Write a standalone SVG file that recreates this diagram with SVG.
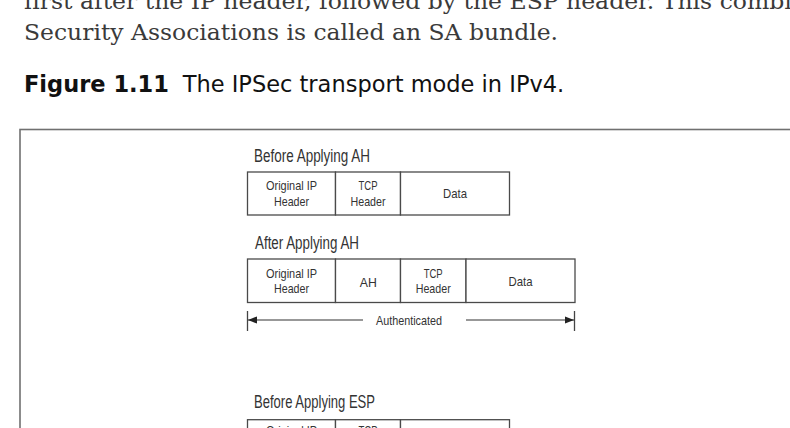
<svg xmlns="http://www.w3.org/2000/svg" width="790" height="428" viewBox="0 0 790 428">
  <defs>
    <style>
      .body { font-family: "DejaVu Serif", "Liberation Serif", serif; font-size: 22px; fill: #3a3a3a; }
      .capb { font-family: "DejaVu Sans", "Liberation Sans", sans-serif; font-size: 22.5px; font-weight: bold; fill: #111; }
      .cap { font-family: "DejaVu Sans", "Liberation Sans", sans-serif; font-size: 22.5px; fill: #111; }
      .frame { fill: none; stroke: #707070; stroke-width: 1.6; }
      .cell { fill: #fff; stroke: #4a4a4a; stroke-width: 1.3; }
      .title { font-family: "Liberation Sans", "DejaVu Sans", sans-serif; font-size: 17.5px; fill: #333; }
      .lbl { font-family: "Liberation Sans", "DejaVu Sans", sans-serif; font-size: 13.5px; fill: #333; text-anchor: middle; }
      .conn { stroke: #333; stroke-width: 1.2; fill: none; }
      .tick { stroke: #444; stroke-width: 1.3; }
    </style>
    <marker id="ah" viewBox="0 0 10 10" refX="10" refY="5" markerWidth="9" markerHeight="9" markerUnits="userSpaceOnUse" orient="auto">
      <path d="M0,1 L10,5 L0,9 Z" fill="#222"/>
    </marker>
  </defs>

  <rect width="790" height="428" fill="#fff"/>

  <text class="body" x="24" y="8.5" textLength="783" lengthAdjust="spacingAndGlyphs">first after the IP header, followed by the ESP header. This combin</text>
  <text class="body" x="24" y="39.5" textLength="534" lengthAdjust="spacingAndGlyphs">Security Associations is called an SA bundle.</text>

  <text class="capb" x="24" y="91.7">Figure 1.11</text>
  <text class="cap" x="182.7" y="91.7">The IPSec transport mode in IPv4.</text>

  <rect class="frame" x="20" y="129.5" width="800" height="320"/>

  <g id="before-ah">
    <text class="title" x="254" y="161.5" textLength="116" lengthAdjust="spacingAndGlyphs">Before Applying AH</text>
    <rect class="cell" x="247.5" y="172" width="88" height="43"/>
    <rect class="cell" x="335.5" y="172" width="65" height="43"/>
    <rect class="cell" x="400.5" y="172" width="109" height="43"/>
    <text class="lbl" x="291.5" y="190" textLength="51" lengthAdjust="spacingAndGlyphs">Original IP</text>
    <text class="lbl" x="291.5" y="205.5" textLength="35" lengthAdjust="spacingAndGlyphs">Header</text>
    <text class="lbl" x="368" y="190" textLength="19" lengthAdjust="spacingAndGlyphs">TCP</text>
    <text class="lbl" x="368" y="205.5" textLength="35" lengthAdjust="spacingAndGlyphs">Header</text>
    <text class="lbl" x="455" y="198" textLength="24" lengthAdjust="spacingAndGlyphs">Data</text>
  </g>

  <g id="after-ah">
    <text class="title" x="255" y="248.5" textLength="104" lengthAdjust="spacingAndGlyphs">After Applying AH</text>
    <rect class="cell" x="247.5" y="259" width="88" height="43.5"/>
    <rect class="cell" x="335.5" y="259" width="65" height="43.5"/>
    <rect class="cell" x="400.5" y="259" width="65.5" height="43.5"/>
    <rect class="cell" x="466" y="259" width="109" height="43.5"/>
    <text class="lbl" x="291.5" y="277.5" textLength="51" lengthAdjust="spacingAndGlyphs">Original IP</text>
    <text class="lbl" x="291.5" y="293" textLength="35" lengthAdjust="spacingAndGlyphs">Header</text>
    <text class="lbl" x="368.3" y="286.5" textLength="17" lengthAdjust="spacingAndGlyphs">AH</text>
    <text class="lbl" x="433.2" y="277.5" textLength="19" lengthAdjust="spacingAndGlyphs">TCP</text>
    <text class="lbl" x="433.2" y="293" textLength="35" lengthAdjust="spacingAndGlyphs">Header</text>
    <text class="lbl" x="520.5" y="286" textLength="24" lengthAdjust="spacingAndGlyphs">Data</text>
  </g>

  <g id="connectors">
    <line class="tick" x1="247.5" y1="311" x2="247.5" y2="331"/>
    <line class="tick" x1="574.5" y1="311" x2="574.5" y2="331"/>
    <line class="conn" x1="363" y1="320" x2="248" y2="320" marker-end="url(#ah)"/>
    <line class="conn" x1="466" y1="320" x2="574" y2="320" marker-end="url(#ah)"/>
    <text class="lbl" x="409" y="324.5" textLength="66" lengthAdjust="spacingAndGlyphs">Authenticated</text>
  </g>

  <g id="before-esp">
    <text class="title" x="254" y="408.3" textLength="121" lengthAdjust="spacingAndGlyphs">Before Applying ESP</text>
    <rect class="cell" x="247.5" y="419.7" width="88" height="43"/>
    <rect class="cell" x="335.5" y="419.7" width="65" height="43"/>
    <rect class="cell" x="400.5" y="419.7" width="109" height="43"/>
    <text class="lbl" x="291.5" y="435.3" textLength="51" lengthAdjust="spacingAndGlyphs">Original IP</text>
    <text class="lbl" x="368" y="435.3" textLength="19" lengthAdjust="spacingAndGlyphs">TCP</text>
  </g>
</svg>
